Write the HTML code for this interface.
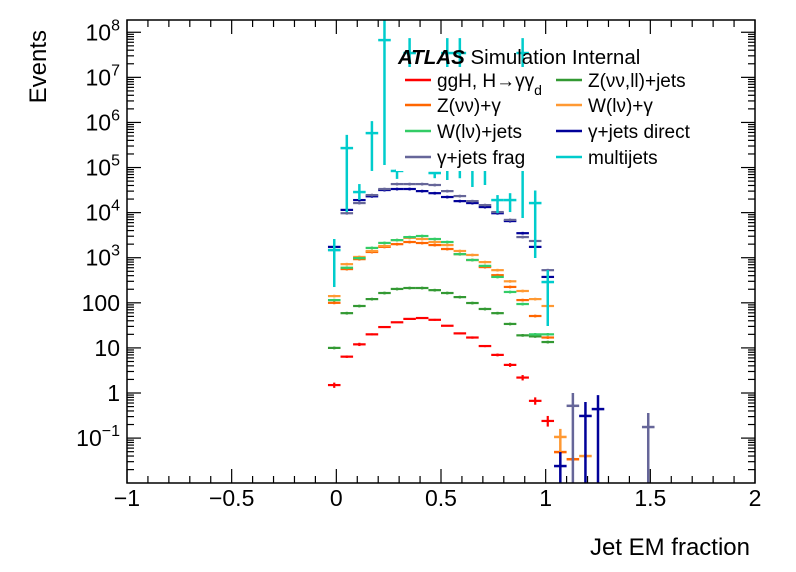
<!DOCTYPE html>
<html><head><meta charset="utf-8">
<style>
html,body{margin:0;padding:0;background:#fff;}
svg{display:block;font-family:"Liberation Sans",sans-serif;}
</style></head>
<body>
<svg id="chart" width="796" height="572" viewBox="0 0 796 572" xmlns="http://www.w3.org/2000/svg">
<rect x="0" y="0" width="796" height="572" fill="#fff"/>
<g id="ticks"></g>
<g id="series"></g>
<rect x="396" y="67" width="308" height="104" fill="#fff"/>
<rect x="127" y="20" width="628" height="463" fill="none" stroke="#000" stroke-width="1.5"/>
<g id="labels" font-size="23" fill="#000"></g>
<text x="0" y="0" font-size="24" text-anchor="end" transform="translate(46,30) rotate(-90)">Events</text>
<text x="750" y="555" font-size="24" text-anchor="end">Jet EM fraction</text>
<text x="398" y="64" font-size="20.5"><tspan font-weight="bold" font-style="italic">ATLAS</tspan> Simulation Internal</text>
<g id="legend" font-size="19"></g>
</svg>
<script>
// ---- data ----
const binCenters = [-0.01,0.05,0.11,0.17,0.23,0.29,0.35,0.41,0.47,0.53,0.59,0.65,0.71,0.77,0.83,0.89,0.95,1.01];
const seriesNames = ["ggH, H\u2192\u03b3\u03b3_d","Z(\u03bd\u03bd,ll)+jets","Z(\u03bd\u03bd)+\u03b3","W(l\u03bd)+\u03b3","W(l\u03bd)+jets","\u03b3+jets direct","\u03b3+jets frag","multijets"];
const seriesColors = ["#ff0000","#339933","#ff6600","#ff9933","#33cc66","#000099","#666699","#00cccc"];
const ggH      = [1.5,6.4,12,20,29,37,44,46,42,31,21,17,11,7,4.2,2.2,0.67,0.24];
const zjets    = [10,59,85,121,165,203,213,213,191,165,134,99,73,59,34,19,18,13.5];
const zgamma   = [100,560,930,1340,1740,2000,2230,2120,1910,1560,1200,890,620,410,225,115,51,17];
const wgamma   = [141,720,1040,1410,1820,2460,2750,2600,2230,1910,1410,1150,800,530,300,183,121,85];
const wjets    = [115,600,980,1650,2130,2460,2870,3030,2600,2230,1200,890,660,375,174,94,20,20];
const gdirect  = [1740,11500,19000,23000,31700,33400,33400,30000,27000,22200,18000,16300,13300,9700,6500,3500,1740,375];
const gfrag    = [1480,9700,16300,24500,33400,43000,43000,43000,41000,30000,23300,18000,14700,10300,6900,2870,2350,530];
const multijet   = [1480,2.7e5,2.86e4,5.8e5,6.7e7,8.4e4,3.46e7,null,7.55e4,3.46e7,3.46e7,1.13e6,1.13e6,1.9e4,1.9e4,3.46e7,1.63e4,289];
const multijetLo = [224,1.03e4,1.9e4,8.4e4,1.14e5,5.6e4,2.4e5,null,5.8e4,5.3e4,5.8e4,3.7e4,4.1e4,9.8e3,1.03e4,7.6e3,985,30.6];
const multijetHi = [2600,5.3e5,4.3e4,1.07e6,2e8,9.3e4,7.4e7,null,7.9e4,7.4e7,7.4e7,3.1e6,3.1e6,2.45e4,2.7e4,7.4e7,3.1e4,534];
const ggHLo = [1.3,6,11,19,28,36,43,44,40,30,20,16,10.4,6.5,3.8,1.9,0.55,0.18];
const ggHHi = [1.7,6.8,13,21,30,38,45,48,44,32,22,18,11.6,7.5,4.6,2.5,0.8,0.31];
// low-statistics tail points: x, value, low, high (low 0 = off-scale)
const tailSeries = [2,2,3,3,5,5,5,6,6];
const tailX      = [1.07,1.13,1.07,1.19,1.07,1.19,1.25,1.13,1.49];
const tailVal    = [0.049,0.034,0.106,0.040,0.024,0.31,0.44,0.52,0.176];
const tailLo     = [0.045,0.031,0.05,0.036,0,0,0,0,0];
const tailHi     = [0.053,0.037,0.16,0.044,0.049,0.63,0.9,1.0,0.36];
const xTicks = [-1,-0.5,0,0.5,1,1.5,2];
const xTickLabels = ["\u22121","\u22120.5","0","0.5","1","1.5","2"];
const yTickExps = [-1,0,1,2,3,4,5,6,7,8];

// ---- axes ----
const X0=127,X1=755,Y0=483,Y1=20, XMIN=-1,XMAX=2, LMIN=Math.log10(0.0101), LMAX=Math.log10(1.87e8);
function sx(v){return X0+(v-XMIN)/(XMAX-XMIN)*(X1-X0);}
function sy(v){ if(!(v>0)) return Y0; const y=Y0-(Math.log10(v)-LMIN)/(LMAX-LMIN)*(Y0-Y1); return Math.max(Y1,Math.min(Y0,y)); }
const NS="http://www.w3.org/2000/svg";
function mk(tag,attrs,parent){const e=document.createElementNS(NS,tag);for(const k in attrs)e.setAttribute(k,attrs[k]);parent.appendChild(e);return e;}

const tg=document.getElementById('ticks');
for(let k=0;k<=30;k++){
  const v=-1+k*0.1, x=sx(v), major=(k%5===0), len=major?14:7;
  const t1=mk('line',{x1:x,x2:x,y1:Y0,y2:Y0-len,stroke:'#000','stroke-width':1.2},tg);
  
  
  const t2=mk('line',{x1:x,x2:x,y1:Y1,y2:Y1+len,stroke:'#000','stroke-width':1.2},tg);
  
  
}
for(let e=-2;e<=8;e++){
  for(let m=1;m<=9;m++){
    const v=m*Math.pow(10,e); const lv=Math.log10(v);
    if(lv<LMIN||lv>LMAX) continue;
    const y=sy(v), len=(m===1)?14:7;
    const a=mk('line',{x1:X0,x2:X0+len,y1:y,y2:y,stroke:'#000','stroke-width':1.2},tg);
    
    
    const b=mk('line',{x1:X1,x2:X1-len,y1:y,y2:y,stroke:'#000','stroke-width':1.2},tg);
    
    
  }
}
const lg=document.getElementById('labels');
xTicks.forEach((v,i)=>{
  const t=mk('text',{x:sx(v),y:506,'text-anchor':'middle'},lg);
  t.textContent=xTickLabels[i];
  
  
});
yTickExps.forEach(e=>{
  const y=sy(Math.pow(10,e))+8;
  const t=mk('text',{x:120,y:y,'text-anchor':'end'},lg);
  
  
  if(e===0){t.textContent='1';}
  else if(e===1){t.textContent='10';}
  else if(e===2){t.textContent='100';}
  else{
    t.textContent='10';
    const s=mk('tspan',{dy:-10,'font-size':16},t); s.textContent=String(e).replace('-','\u2212');
  }
});

// ---- series ----
const sg=document.getElementById('series');
const HW=0.03;
function drawPoint(c,v,lo,hi,col,w,name){
  if(v==null) return;
  const x=sx(c), y=sy(v);
  const h=mk('line',{x1:sx(c-HW),x2:sx(c+HW),y1:y,y2:y,stroke:col,'stroke-width':w},sg);
  
  
  const vl=mk('line',{x1:x,x2:x,y1:sy(lo),y2:sy(hi),stroke:col,'stroke-width':w},sg);
  
  
}
const bulk=[ggH,zjets,zgamma,wgamma,wjets,gdirect,gfrag];
const tags=["ggh","zjets","zgamma","wgamma","wjets","gjets-direct","gjets-frag"];
bulk.forEach((arr,s)=>{
  arr.forEach((v,i)=>{
    let lo=v*0.93, hi=v*1.07;
    if(s===0){lo=ggHLo[i];hi=ggHHi[i];}
    drawPoint(binCenters[i],v,lo,hi,seriesColors[s],2.2,tags[s]);
  });
});
tailVal.forEach((v,i)=>{
  const s=tailSeries[i];
  drawPoint(tailX[i],v,tailLo[i],tailHi[i],seriesColors[s],2.5,tags[s]);
});
multijet.forEach((v,i)=>{
  drawPoint(binCenters[i],v,multijetLo[i],multijetHi[i],seriesColors[7],2.5,'multijets');
});

// ---- legend ----
const L=document.getElementById('legend');
const cols=[[405,437],[556,588]], rows=[80,105,131,157];
seriesNames.forEach((n,i)=>{
  const c=cols[i%2], r=rows[Math.floor(i/2)];
  const g=mk('g',{},L);
  
  
  mk('line',{x1:c[0],x2:c[0]+26,y1:r,y2:r,stroke:seriesColors[i],'stroke-width':2.5},g);
  const t=mk('text',{x:c[1],y:r+7},g);
  if(n.indexOf('_d')>=0){
    t.textContent=n.replace('_d','');
    const s=mk('tspan',{dy:8,'font-size':14},t); s.textContent='d';
  } else t.textContent=n;
});
</script>
</body></html>
